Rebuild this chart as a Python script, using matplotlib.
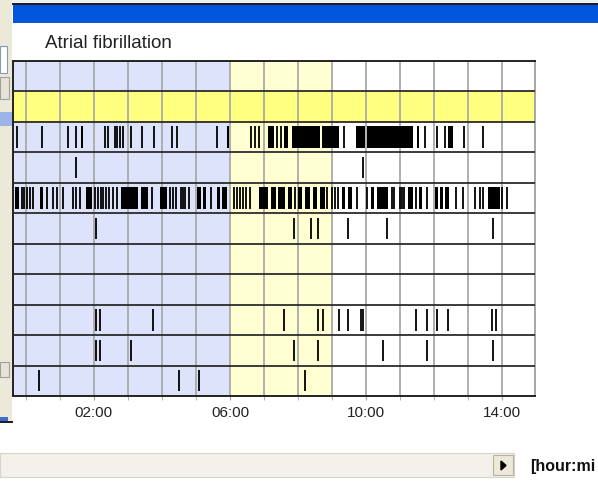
import matplotlib
matplotlib.use("Agg")
import matplotlib.pyplot as plt
from matplotlib.patches import Rectangle, Polygon

W, H = 598, 487
plt.rcParams['font.family'] = ['Liberation Sans', 'DejaVu Sans']

# time axis (hours after midnight)
hour_ticks = [2, 6, 10, 14]
hour_labels = ["02:00", "06:00", "10:00", "14:00"]
t_min, t_max = -0.38, 14.97
night_end = 6.0      # blue band ends
morning_end = 9.0    # light yellow band ends

n_rows = 11
selected_row = 1

# events per row: single beats (hours) and longer runs (start, end)
r3_ticks = [-0.27, 0.46, 1.24, 1.47, 2.32, 2.41, 2.62, 2.69, 2.76, 2.85, 3.09,
            3.40, 3.76, 4.29, 4.43, 5.63, 6.61, 6.74, 6.86, 7.38, 7.50, 9.35,
            11.74, 12.08, 12.32, 12.88, 13.45]
r3_spans = [(1.62, 1.69), (5.92, 5.98), (7.12, 7.29), (7.60, 7.72), (7.82, 8.65),
            (8.71, 9.21), (9.71, 9.97), (10.03, 11.38), (11.49, 11.57), (12.41, 12.56)]

r4_ticks = [1.47, 9.92]

r5_ticks = [-0.13, -0.05, 0.02, 0.12, 0.21, 0.61, 0.79, 0.91, 1.10, 1.39, 1.47,
            1.59, 2.03, 2.11, 2.20, 2.27, 2.35, 2.45, 2.57, 2.67, 3.71, 4.24,
            4.32, 4.41, 4.56, 4.62, 4.68, 4.80, 5.43, 6.12, 6.20, 6.29, 6.38,
            6.47, 6.59, 7.91, 8.86, 8.99, 9.09, 9.19, 9.74, 10.02, 10.76, 10.82,
            11.00, 11.06, 11.13, 11.46, 11.79, 12.65, 12.84, 13.21, 13.35, 13.43,
            14.00, 14.16]
r5_spans = [(-0.32, -0.19), (0.40, 0.50), (1.76, 1.94), (2.81, 3.31), (3.38, 3.60),
            (3.94, 4.15), (5.02, 5.16), (5.21, 5.31), (5.63, 5.71), (5.76, 5.92),
            (6.86, 7.13), (7.21, 7.35), (7.42, 7.62), (7.71, 7.81), (8.01, 8.11),
            (8.21, 8.35), (8.43, 8.57), (8.65, 8.79), (9.29, 9.38), (9.48, 9.58),
            (10.16, 10.25), (10.31, 10.66), (11.24, 11.37), (11.57, 11.64),
            (12.03, 12.13), (12.18, 12.27), (12.32, 12.45), (13.60, 13.94)]

r6_ticks = [2.06, 7.88, 8.38, 8.60, 9.46, 10.61, 13.74]
r9_ticks = [2.06, 2.18, 3.73, 7.59, 8.60, 8.74, 9.21, 9.46, 9.84, 9.90, 11.46,
            11.79, 12.08, 12.42, 13.71, 13.82]
r10_ticks = [2.06, 2.18, 3.09, 7.88, 8.60, 10.51, 11.79, 13.74]
r11_ticks = [0.38, 4.50, 5.09, 8.21]

rows = {2: (r3_ticks, r3_spans), 3: (r4_ticks, []), 4: (r5_ticks, r5_spans),
        5: (r6_ticks, []), 8: (r9_ticks, []), 9: (r10_ticks, []), 10: (r11_ticks, [])}

fig = plt.figure(figsize=(W / 100, H / 100), dpi=100)
fig.patch.set_facecolor("white")


def box(x, y, w, h, **kw):
    # rectangle in screen pixels, origin top-left
    fig.add_artist(Rectangle((x / W, 1 - (y + h) / H), w / W, h / H,
                             transform=fig.transFigure, **kw))


# window chrome
box(0, 0, W, 4, color="#f0f0f0", lw=0)
box(12, 3, W - 12, 2, color="#202020", lw=0)
box(13, 5, W - 13, 18, color="#0055dd", lw=0)
box(0, 0, 12, 422, color="#ece9d8", lw=0)
box(0, 46, 7, 27, facecolor="white", edgecolor="#7f9db9", lw=0.8)
box(0, 77, 9, 22, facecolor="#e6e3d6", edgecolor="#a0a0a0", lw=0.8)
box(0, 112, 12, 14, color="#9db4e6", lw=0)
box(0, 362, 9, 15, facecolor="#e6e3d6", edgecolor="#a0a0a0", lw=0.8)
box(0, 417, 8, 4, color="#3a6fd8", lw=0)
box(0, 421, 13, 1.5, color="#202020", lw=0)

fig.text(45 / W, 1 - 44 / H, "Atrial fibrillation", fontsize=13.5, va="center",
         ha="left", color="#222222")

ax = fig.add_axes([13 / W, 1 - 396 / H, 522 / W, 335 / H])
ax.set_xlim(t_min, t_max)
ax.set_ylim(n_rows, 0)

ax.axvspan(t_min, night_end, color="#dde3fb", lw=0, zorder=0)
ax.axvspan(night_end, morning_end, color="#ffffd2", lw=0, zorder=0)
ax.axhspan(selected_row, selected_row + 1, color="#ffff80", lw=0, zorder=1)

for h in range(0, 15):
    ax.axvline(h, color="#aaaaaa", lw=1.3, zorder=2)
for r in range(1, n_rows):
    ax.axhline(r, color="#2b2b2b", lw=1.3, zorder=3)

for r, (ticks, spans) in rows.items():
    ax.vlines(ticks, r + 0.15, r + 0.85, color="black", lw=1.3, zorder=4)
    if spans:
        ax.broken_barh([(a, b - a) for a, b in spans], (r + 0.15, 0.7),
                       facecolor="black", lw=0, zorder=4)

for side in ["left", "top", "bottom"]:
    ax.spines[side].set_color("#222222")
    ax.spines[side].set_linewidth(1.4)
ax.spines["right"].set_color("#a0a0a0")
ax.spines["right"].set_linewidth(1.3)

ax.set_yticks([])
ax.set_xticks(hour_ticks)
ax.set_xticklabels(hour_labels, fontsize=11, color="#222222")
ax.set_xticks(range(0, 15), minor=True)
ax.tick_params(axis="x", which="both", length=3, color="#a0a0a0", pad=4)

# scrollbar and unit label (the window cuts the label after "mi")
box(0, 453, 514, 24, facecolor="#f3f1ea", edgecolor="#d8d5c8", lw=0.8)
box(493, 455, 20, 20, facecolor="#ece9d8", edgecolor="#b5b2a5", lw=0.8)
fig.add_artist(Polygon([(501 / W, 1 - 461 / H), (501 / W, 1 - 470 / H),
                        (506 / W, 1 - 465.5 / H)], closed=True,
                       transform=fig.transFigure, color="black"))
fig.text(530 / W, 1 - 466 / H, "[hour:mi", fontsize=11.5, fontweight="bold",
         va="center", ha="left", color="#111111")

fig.savefig("out.png", dpi=100)
